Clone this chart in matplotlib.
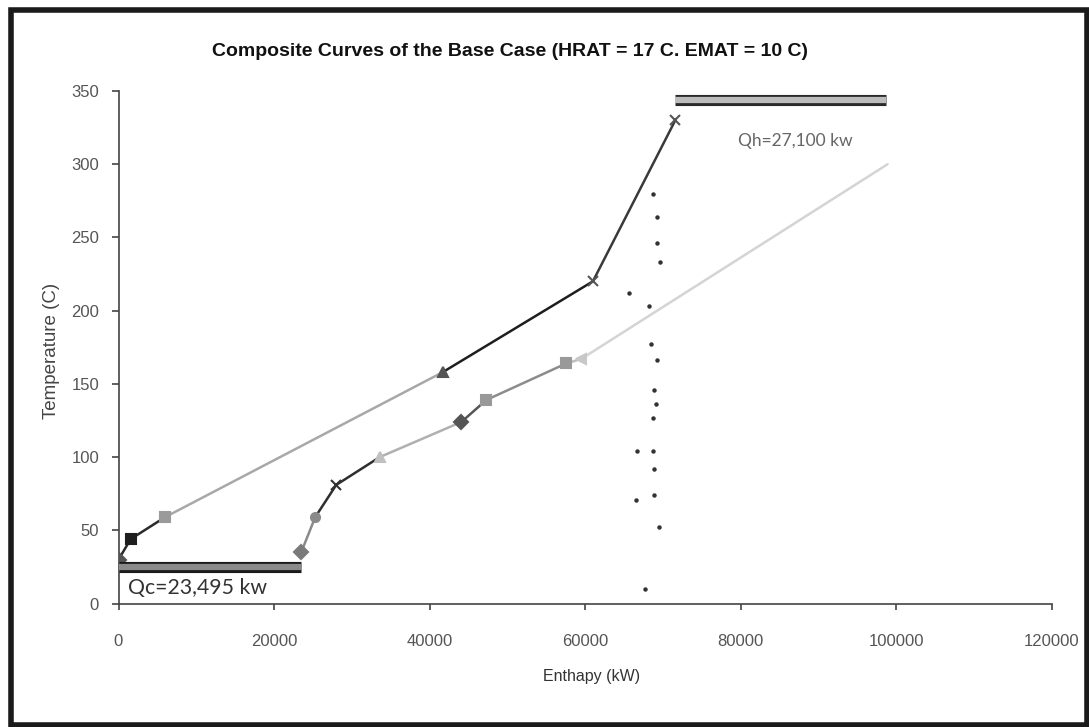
import matplotlib
matplotlib.use("Agg")
import matplotlib.pyplot as plt
from matplotlib.patches import Rectangle
import matplotlib.patheffects as pe

# ---------------- data ----------------
hot_H = [0, 1570, 6000, 41700, 61000, 71600]
hot_T = [30, 44, 59, 158, 220, 330]

cold_H = [23495, 25300, 28000, 33600, 44100, 47300, 57600, 59500, 98900]
cold_T = [35, 59, 81, 100, 124, 139, 164, 167, 300]

dots_H = [68770, 69280, 69280, 69630, 65680, 68170, 68430, 69200, 68920,
          69090, 68770, 66710, 68770, 68860, 66540, 68880, 69500, 67660]
dots_T = [280, 264, 246, 233, 212, 203, 177, 166, 146,
          136, 127, 104, 104, 92, 71, 74, 52, 10]

qc_H = [0, 23495]
qc_T = [25, 25]
qh_H = [71600, 98700]
qh_T = [344, 344]

x_ticks = [0, 20000, 40000, 60000, 80000, 100000, 120000]
y_ticks = [0, 50, 100, 150, 200, 250, 300, 350]

title = "Composite Curves of the Base Case (HRAT = 17 C. EMAT = 10 C)"
x_label = "Enthapy (kW)"
y_label = "Temperature (C)"
qc_text = "Qc=23,495 kw"
qh_text = "Qh=27,100 kw"

# ---------------- styles ----------------
font = "Liberation Sans"

hot_seg_colors = ["#2a2a2a", "#2a2a2a", "#a8a8a8", "#1e1e1e", "#3a3a3a"]
hot_seg_markers = ["D", "s", "s", "^", "x"]
hot_marker_colors = ["#555555", "#1e1e1e", "#9a9a9a", "#555555", "#555555"]

cold_seg_colors = ["#8a8a8a", "#2e2e2e", "#2e2e2e", "#b0b0b0", "#555555",
                   "#8c8c8c", "#bdbdbd", "#d4d4d4"]
cold_seg_markers = ["D", "o", "x", "^", "D", "s", "s", "<"]
cold_marker_colors = ["#7a7a7a", "#8a8a8a", "#333333", "#c0c0c0", "#555555",
                      "#999999", "#999999", "#c8c8c8"]

W, H = 1089, 727
fig = plt.figure(figsize=(W / 100, H / 100), dpi=100)
fig.patch.set_facecolor("white")

ax_l, ax_r, ax_t, ax_b = 118.5, 1051.7, 91, 603.5
ax = fig.add_axes([ax_l / W, 1 - ax_b / H, (ax_r - ax_l) / W, (ax_b - ax_t) / H])
ax.set_xlim(0, 120000)
ax.set_ylim(0, 350)
ax.set_facecolor("white")

def draw_curve(Hs, Ts, seg_colors, seg_markers, mcolors):
    for i in range(len(Hs) - 1):
        ax.plot(Hs[i:i + 2], Ts[i:i + 2], color=seg_colors[i], lw=1.8,
                solid_capstyle="round", zorder=3)
    for i in range(len(Hs) - 1):
        m = seg_markers[i]
        ms = 7.5 if m in ("s", "D") else 6.5
        ax.plot([Hs[i]], [Ts[i]], linestyle="none", marker=m, ms=ms,
                color=mcolors[i], mec=mcolors[i], mew=1.5, zorder=4)

draw_curve(hot_H, hot_T, hot_seg_colors, hot_seg_markers, hot_marker_colors)
ax.plot([hot_H[-1]], [hot_T[-1]], linestyle="none", marker="x", ms=7,
        color="#555555", mew=1.5, zorder=4)
draw_curve(cold_H, cold_T, cold_seg_colors, cold_seg_markers, cold_marker_colors)

# dotted vertical scatter
ax.plot(dots_H, dots_T, linestyle="none", marker="o", ms=2.2,
        color="#333333", zorder=2)

# utility bars
ax.plot(qc_H, qc_T, color="#8a8a8a", lw=4.5, solid_capstyle="butt", zorder=5,
        path_effects=[pe.Stroke(linewidth=8.0, foreground="#1a1a1a"), pe.Normal()])
ax.plot(qh_H, qh_T, color="#bcbcbc", lw=4.5, solid_capstyle="butt", zorder=5,
        path_effects=[pe.Stroke(linewidth=8.0, foreground="#2a2a2a"), pe.Normal()])

ax.text(1200, 10.5, qc_text, fontsize=15.3, family="Lato", color="#333333",
        va="center", ha="left")
ax.text(79650, 316, qh_text, fontsize=12.5, family="Lato", color="#666666",
        va="center", ha="left")

# axes styling
for s in ("top", "right"):
    ax.spines[s].set_visible(False)
for s in ("left", "bottom"):
    ax.spines[s].set_color("#444444")
    ax.spines[s].set_linewidth(1.2)
ax.set_xticks(x_ticks)
ax.set_xticklabels([str(v) for v in x_ticks])
ax.set_yticks(y_ticks)
ax.set_yticklabels([str(v) for v in y_ticks])
ax.tick_params(axis="x", direction="out", length=4, width=1.2, color="#444444",
               pad=18, labelsize=12, labelcolor="#555555")
ax.tick_params(axis="y", direction="out", length=5, width=1.2, color="#444444",
               pad=9, labelsize=12, labelcolor="#555555")
for lab in ax.get_xticklabels() + ax.get_yticklabels():
    lab.set_family(font)

fig.text(592 / W, 1 - 677 / H, x_label, ha="center", va="center",
         fontsize=11.5, family=font, color="#333333")
fig.text(52 / W, 1 - 351 / H, y_label, ha="center", va="center",
         rotation=90, fontsize=13.5, family=font, color="#444444")
fig.text(510 / W, 1 - 52 / H, title, ha="center", va="center",
         fontsize=14, family=font, weight="bold", color="#111111")

# outer border
fig.patches.append(Rectangle((11 / W, 1 - 724.5 / H), (1086.5 - 11) / W,
                             (724.5 - 10) / H, transform=fig.transFigure,
                             fill=False, edgecolor="#1a1a1a", linewidth=4.0))

fig.savefig("out.png", dpi=100, facecolor="white")
